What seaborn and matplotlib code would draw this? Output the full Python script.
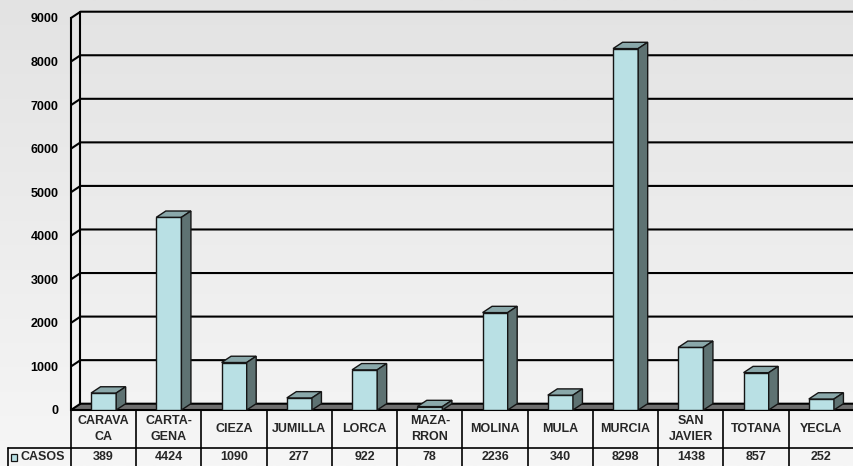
import numpy as np
import pandas as pd
import matplotlib
matplotlib.use("Agg")
import matplotlib.pyplot as plt
import seaborn as sns
from matplotlib.patches import Polygon, Rectangle
from matplotlib.colors import LinearSegmentedColormap

# Casos por municipio
municipios = ["CARAVA\nCA", "CARTA-\nGENA", "CIEZA", "JUMILLA", "LORCA", "MAZA-\nRRON",
              "MOLINA", "MULA", "MURCIA", "SAN\nJAVIER", "TOTANA", "YECLA"]
casos = [389, 4424, 1090, 277, 922, 78, 2236, 340, 8298, 1438, 857, 252]
serie = "CASOS"
y_ticks = list(range(0, 9001, 1000))

sns.set_style("white")
plt.rcParams["font.family"] = ["Liberation Sans", "DejaVu Sans"]
plt.rcParams["font.weight"] = "bold"

FRONT = "#b9e0e4"
TOP = "#8aa8aa"
SIDE = "#5e7272"
FLOOR = "#6e6e6e"
EDGE = "#151515"
FS = 9

W, H, DPI = 854, 466, 100
fig = plt.figure(figsize=(W / DPI, H / DPI), dpi=DPI)

# soft vertical gradient behind everything
bg = fig.add_axes([0, 0, 1, 1], zorder=-10)
grad = np.linspace(0, 1, 256)[:, None]
bg.imshow(grad, aspect="auto", origin="upper", extent=[0, 1, 0, 1],
          cmap=LinearSegmentedColormap.from_list("bg", ["#e3e3e3", "#f6f6f6"]))
bg.set_axis_off()

# plot area: front plane of the 3D box
ax = fig.add_axes([71 / W, 56 / H, 1 - 71 / W, 392 / H])
ax.patch.set_alpha(0)

df = pd.DataFrame({"municipio": municipios, "casos": casos})
sns.barplot(data=df, x="municipio", y="casos", color=FRONT, saturation=1,
            width=0.385, edgecolor=EDGE, linewidth=1.0, errorbar=None,
            ax=ax, zorder=4)

ax.set_xlim(-0.5, 11.5)
ax.set_ylim(0, 9000)
ax.set_yticks(y_ticks)
ax.set_yticklabels([str(v) for v in y_ticks], fontsize=FS, fontweight="bold")
ax.set_xticks([])
ax.set_xlabel("")
ax.set_ylabel("")
for s in ["top", "right", "bottom"]:
    ax.spines[s].set_visible(False)
ax.spines["left"].set_linewidth(1.5)
ax.spines["left"].set_color("black")
ax.tick_params(axis="y", length=5, width=1.5, pad=4, colors="black")

# pixel -> data scale for the depth offset
p0 = ax.transData.transform((0, 0))
p1 = ax.transData.transform((1, 1000))
sx = 1.0 / (p1[0] - p0[0])
sy = 1000.0 / (p1[1] - p0[1])
DX, DY = 9.5 * sx, 6.3 * sy
L, R = -0.5, 12.5

# floor and back wall
ax.add_patch(Polygon([(L, 0), (R, 0), (R + DX, DY), (L + DX, DY)], closed=True,
                     facecolor=FLOOR, edgecolor="none", zorder=1, clip_on=False))
for v in y_ticks:
    ax.plot([L, L + DX, R + DX], [v, v + DY, v + DY], color="black", lw=1.5,
            zorder=2, clip_on=False, solid_capstyle="butt")
ax.plot([L + DX, L + DX], [DY, 9000 + DY], color="black", lw=1.5, zorder=2, clip_on=False)
ax.plot([L, R], [0, 0], color="black", lw=1.5, zorder=3, clip_on=False)

# top and side faces of each column
for p in ax.patches:
    if not isinstance(p, Rectangle) or p.get_height() <= 0:
        continue
    x0, w, h = p.get_x(), p.get_width(), p.get_height()
    ax.add_patch(Polygon([(x0, h), (x0 + w, h), (x0 + w + DX, h + DY), (x0 + DX, h + DY)],
                         closed=True, facecolor=TOP, edgecolor=EDGE, lw=1.0,
                         zorder=4, clip_on=False))
    ax.add_patch(Polygon([(x0 + w, 0), (x0 + w + DX, DY), (x0 + w + DX, h + DY), (x0 + w, h)],
                         closed=True, facecolor=SIDE, edgecolor=EDGE, lw=1.0,
                         zorder=4, clip_on=False))

# data table below the plot
tx = ax.get_xaxis_transform()
ah = 392.0


def yd(d):
    return -d / ah


row_line = 37.5
legend_x = L - 63 * sx
for i in range(len(municipios) + 1):
    ax.plot([i - 0.5, i - 0.5], [yd(0), yd(70)], transform=tx, color="black",
            lw=1.2, clip_on=False)
ax.plot([legend_x, R], [yd(row_line), yd(row_line)], transform=tx, color="black",
        lw=1.2, clip_on=False)
ax.plot([legend_x, legend_x], [yd(row_line), yd(70)], transform=tx, color="black",
        lw=1.2, clip_on=False)

for i, (m, c) in enumerate(zip(municipios, casos)):
    ax.text(i, yd(19), m, transform=tx, ha="center", va="center",
            multialignment="center", fontsize=FS, fontweight="bold",
            linespacing=1.35, clip_on=False)
    ax.text(i, yd(47), str(c), transform=tx, ha="center", va="center",
            fontsize=FS, fontweight="bold", clip_on=False)

ax.add_patch(Rectangle((L - 60 * sx, yd(50.5)), 6.5 * sx, 6.5 / ah, transform=tx,
                       facecolor=FRONT, edgecolor=EDGE, lw=0.9, clip_on=False))
ax.text(L - 50.5 * sx, yd(47), serie, transform=tx, ha="left", va="center",
        fontsize=FS, fontweight="bold", clip_on=False)

fig.savefig("out.png", dpi=DPI)
